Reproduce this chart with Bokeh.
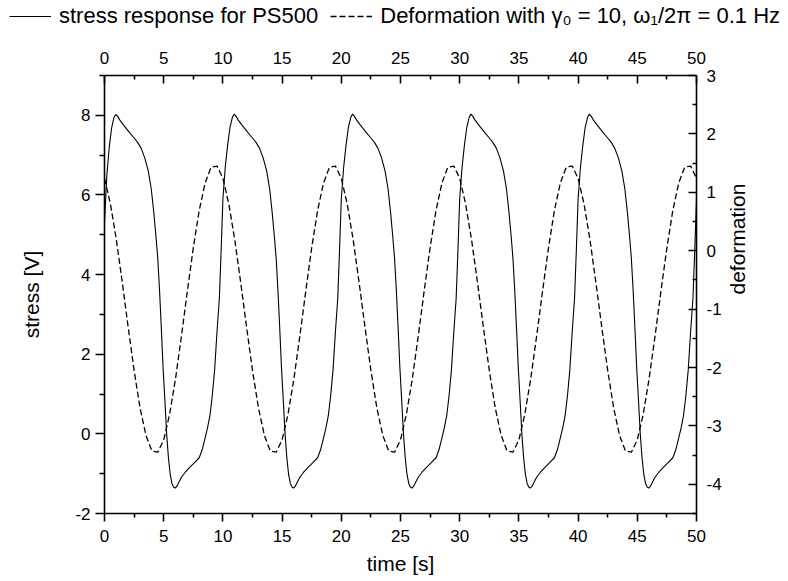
import math
from bokeh.plotting import figure
from bokeh.layouts import column
from bokeh.models import Range1d, LinearAxis, FixedTicker, Legend, LegendItem, PrintfTickFormatter
from bokeh.embed import file_html
from bokeh.resources import INLINE

# ---------------- data ----------------
stress_time = [
    0.0, 0.2, 0.4, 0.6, 0.8, 0.95, 1.1, 1.3, 1.6, 2.1, 2.5, 2.8, 3.1, 3.4, 3.7, 3.95, 4.15, 4.35, 4.5, 4.65, 4.8, 4.95, 5.1, 5.25, 5.4, 5.55, 5.7, 5.85, 5.97, 6.1, 6.3, 6.5, 6.8, 7.2, 7.6, 8.0, 8.25, 8.5, 8.7, 8.9, 9.1, 9.3, 9.5, 9.7, 9.85,
    10.0, 10.2, 10.4, 10.6, 10.8, 10.95, 11.1, 11.3, 11.6, 12.1, 12.5, 12.8, 13.1, 13.4, 13.7, 13.95, 14.15, 14.35, 14.5, 14.65, 14.8, 14.95, 15.1, 15.25, 15.4, 15.55, 15.7, 15.85, 15.97, 16.1, 16.3, 16.5, 16.8, 17.2, 17.6, 18.0, 18.25, 18.5, 18.7, 18.9, 19.1, 19.3, 19.5, 19.7, 19.85,
    20.0, 20.2, 20.4, 20.6, 20.8, 20.95, 21.1, 21.3, 21.6, 22.1, 22.5, 22.8, 23.1, 23.4, 23.7, 23.95, 24.15, 24.35, 24.5, 24.65, 24.8, 24.95, 25.1, 25.25, 25.4, 25.55, 25.7, 25.85, 25.97, 26.1, 26.3, 26.5, 26.8, 27.2, 27.6, 28.0, 28.25, 28.5, 28.7, 28.9, 29.1, 29.3, 29.5, 29.7, 29.85,
    30.0, 30.2, 30.4, 30.6, 30.8, 30.95, 31.1, 31.3, 31.6, 32.1, 32.5, 32.8, 33.1, 33.4, 33.7, 33.95, 34.15, 34.35, 34.5, 34.65, 34.8, 34.95, 35.1, 35.25, 35.4, 35.55, 35.7, 35.85, 35.97, 36.1, 36.3, 36.5, 36.8, 37.2, 37.6, 38.0, 38.25, 38.5, 38.7, 38.9, 39.1, 39.3, 39.5, 39.7, 39.85,
    40.0, 40.2, 40.4, 40.6, 40.8, 40.95, 41.1, 41.3, 41.6, 42.1, 42.5, 42.8, 43.1, 43.4, 43.7, 43.95, 44.15, 44.35, 44.5, 44.65, 44.8, 44.95, 45.1, 45.25, 45.4, 45.55, 45.7, 45.85, 45.97, 46.1, 46.3, 46.5, 46.8, 47.2, 47.6, 48.0, 48.25, 48.5, 48.7, 48.9, 49.1, 49.3, 49.5, 49.7, 49.85,
    50.0,
]
stress = [
    5.3, 6.5, 7.2, 7.68, 7.95, 8.02, 7.98, 7.88, 7.76, 7.57, 7.43, 7.32, 7.17, 6.93, 6.6, 6.15, 5.6, 4.95, 4.4, 3.6, 2.65, 1.65, 0.85, 0.0, -0.6, -1.02, -1.25, -1.34, -1.36, -1.32, -1.2, -1.09, -0.97, -0.84, -0.72, -0.6, -0.4, -0.1, 0.15, 0.45, 0.95, 1.6, 2.55, 3.4, 4.6,
    5.9, 6.7, 7.25, 7.7, 7.95, 8.03, 7.98, 7.88, 7.76, 7.57, 7.43, 7.32, 7.17, 6.93, 6.6, 6.15, 5.6, 4.95, 4.4, 3.6, 2.65, 1.65, 0.85, 0.0, -0.6, -1.02, -1.25, -1.34, -1.36, -1.32, -1.2, -1.09, -0.97, -0.84, -0.72, -0.6, -0.4, -0.1, 0.15, 0.45, 0.95, 1.6, 2.55, 3.4, 4.6,
    5.9, 6.7, 7.25, 7.7, 7.95, 8.03, 7.98, 7.88, 7.76, 7.57, 7.43, 7.32, 7.17, 6.93, 6.6, 6.15, 5.6, 4.95, 4.4, 3.6, 2.65, 1.65, 0.85, 0.0, -0.6, -1.02, -1.25, -1.34, -1.36, -1.32, -1.2, -1.09, -0.97, -0.84, -0.72, -0.6, -0.4, -0.1, 0.15, 0.45, 0.95, 1.6, 2.55, 3.4, 4.6,
    5.9, 6.7, 7.25, 7.7, 7.95, 8.03, 7.98, 7.88, 7.76, 7.57, 7.43, 7.32, 7.17, 6.93, 6.6, 6.15, 5.6, 4.95, 4.4, 3.6, 2.65, 1.65, 0.85, 0.0, -0.6, -1.02, -1.25, -1.34, -1.36, -1.32, -1.2, -1.09, -0.97, -0.84, -0.72, -0.6, -0.4, -0.1, 0.15, 0.45, 0.95, 1.6, 2.55, 3.4, 4.6,
    5.9, 6.7, 7.25, 7.7, 7.95, 8.03, 7.98, 7.88, 7.76, 7.57, 7.43, 7.32, 7.17, 6.93, 6.6, 6.15, 5.6, 4.95, 4.4, 3.6, 2.65, 1.65, 0.85, 0.0, -0.6, -1.02, -1.25, -1.34, -1.36, -1.32, -1.2, -1.09, -0.97, -0.84, -0.72, -0.6, -0.4, -0.1, 0.15, 0.45, 0.95, 1.6, 2.55, 3.4, 4.6,
    5.9,
]

deform_time = [
    0.0, 0.5, 1.0, 1.5, 2.0, 2.5, 3.0, 3.5, 4.0, 4.5, 5.0, 5.5, 6.0, 6.5, 7.0, 7.5, 8.0, 8.5, 9.0, 9.5,
    10.0, 10.5, 11.0, 11.5, 12.0, 12.5, 13.0, 13.5, 14.0, 14.5, 15.0, 15.5, 16.0, 16.5, 17.0, 17.5, 18.0, 18.5, 19.0, 19.5,
    20.0, 20.5, 21.0, 21.5, 22.0, 22.5, 23.0, 23.5, 24.0, 24.5, 25.0, 25.5, 26.0, 26.5, 27.0, 27.5, 28.0, 28.5, 29.0, 29.5,
    30.0, 30.5, 31.0, 31.5, 32.0, 32.5, 33.0, 33.5, 34.0, 34.5, 35.0, 35.5, 36.0, 36.5, 37.0, 37.5, 38.0, 38.5, 39.0, 39.5,
    40.0, 40.5, 41.0, 41.5, 42.0, 42.5, 43.0, 43.5, 44.0, 44.5, 45.0, 45.5, 46.0, 46.5, 47.0, 47.5, 48.0, 48.5, 49.0, 49.5,
    50.0,
]
deformation = [
    1.24, 0.80, 0.19, -0.54, -1.31, -2.05, -2.69, -3.16, -3.43, -3.45, -3.24, -2.80, -2.19, -1.46, -0.69, 0.05, 0.69, 1.16, 1.43, 1.45,
    1.24, 0.80, 0.19, -0.54, -1.31, -2.05, -2.69, -3.16, -3.43, -3.45, -3.24, -2.80, -2.19, -1.46, -0.69, 0.05, 0.69, 1.16, 1.43, 1.45,
    1.24, 0.80, 0.19, -0.54, -1.31, -2.05, -2.69, -3.16, -3.43, -3.45, -3.24, -2.80, -2.19, -1.46, -0.69, 0.05, 0.69, 1.16, 1.43, 1.45,
    1.24, 0.80, 0.19, -0.54, -1.31, -2.05, -2.69, -3.16, -3.43, -3.45, -3.24, -2.80, -2.19, -1.46, -0.69, 0.05, 0.69, 1.16, 1.43, 1.45,
    1.24, 0.80, 0.19, -0.54, -1.31, -2.05, -2.69, -3.16, -3.43, -3.45, -3.24, -2.80, -2.19, -1.46, -0.69, 0.05, 0.69, 1.16, 1.43, 1.45,
    1.24,
]

time_ticks = [0, 5, 10, 15, 20, 25, 30, 35, 40, 45, 50]
time_minor = [2.5, 7.5, 12.5, 17.5, 22.5, 27.5, 32.5, 37.5, 42.5, 47.5]
stress_ticks = [-2, 0, 2, 4, 6, 8]
stress_minor = [-1, 1, 3, 5, 7, 9]
deform_ticks = [-4, -3, -2, -1, 0, 1, 2, 3]
deform_minor = [-4.5, -3.5, -2.5, -1.5, -0.5, 0.5, 1.5, 2.5]

label_stress = "stress response for PS500"
label_deform = "Deformation with \u03b3\u2080 = 10, \u03c9\u2081/2\u03c0 = 0.1 Hz"

FONT = "Liberation Sans"
SOLID_W = 1.1
DASH_W = 1.3
DASH = "6 3"

# ---------------- main figure ----------------
p = figure(
    frame_width=592, frame_height=438,
    min_border_left=104, min_border_right=92, min_border_top=40, min_border_bottom=68,
    x_range=Range1d(0, 50), y_range=Range1d(-2, 9),
    output_backend="svg", toolbar_location=None,
    x_axis_label="time [s]", y_axis_label="stress [V]",
)
p.frame_align = False
p.extra_y_ranges = {"def": Range1d(-4.5, 3)}
p.xgrid.visible = False
p.ygrid.visible = False
p.outline_line_color = None
p.background_fill_color = "white"
p.border_fill_color = "white"

def style_axis(ax, tin, tout):
    ax.axis_line_color = "black"
    ax.axis_line_width = 1.6
    ax.major_tick_line_color = "black"
    ax.minor_tick_line_color = "black"
    ax.major_tick_line_width = 1.6
    ax.minor_tick_line_width = 1.6
    ax.major_tick_in = tin
    ax.major_tick_out = tout
    ax.minor_tick_in = int(round(tin * 0.55))
    ax.minor_tick_out = int(round(tout * 0.55))
    ax.major_label_text_font = FONT
    ax.major_label_text_font_size = "17px"
    ax.major_label_text_color = "black"
    ax.axis_label_text_font = FONT
    ax.axis_label_text_font_size = "21px"
    ax.axis_label_text_font_style = "normal"
    ax.axis_label_text_color = "black"

xb = p.xaxis[0]
xb.ticker = FixedTicker(ticks=time_ticks, minor_ticks=time_minor)
style_axis(xb, 0, 8)
xb.major_label_standoff = 8
xb.axis_label_standoff = 7

yl = p.yaxis[0]
yl.ticker = FixedTicker(ticks=stress_ticks, minor_ticks=stress_minor)
yl.formatter = PrintfTickFormatter(format="%d")
style_axis(yl, 0, 9)
yl.major_label_standoff = 5
yl.axis_label_standoff = 29

xt = LinearAxis(ticker=FixedTicker(ticks=time_ticks, minor_ticks=time_minor))
style_axis(xt, 8, 0)
xt.major_label_standoff = 12
p.add_layout(xt, "above")

yr = LinearAxis(y_range_name="def", axis_label="deformation",
                ticker=FixedTicker(ticks=deform_ticks, minor_ticks=deform_minor),
                formatter=PrintfTickFormatter(format="%d"))
style_axis(yr, 8, 0)
yr.major_label_standoff = 10
yr.axis_label_standoff = 13
yr.axis_label_orientation = math.pi / 2
p.add_layout(yr, "right")

r1 = p.line(stress_time, stress, line_color="black", line_width=SOLID_W)
r2 = p.line(deform_time, deformation, y_range_name="def", line_color="black",
            line_width=DASH_W, line_dash=DASH)

# ---------------- legend strip (above the chart) ----------------
# the strip's view range lies far away from the data, so its two lines only
# serve as legend samples and draw nothing themselves
lg = figure(width=788, height=35, x_range=Range1d(0, 1), y_range=Range1d(100, 101),
            x_axis_type=None, y_axis_type=None, min_border=0,
            output_backend="svg", toolbar_location=None)
lg.frame_align = False
lg.outline_line_color = None
lg.background_fill_color = "white"
lg.border_fill_color = "white"
lg.xgrid.visible = False
lg.ygrid.visible = False
lr1 = lg.line(stress_time, stress, line_color="black", line_width=SOLID_W)
lr2 = lg.line(deform_time, deformation, line_color="black", line_width=DASH_W, line_dash=DASH)

legend = Legend(
    items=[LegendItem(label=label_stress, renderers=[lr1]),
           LegendItem(label=label_deform, renderers=[lr2])],
    orientation="horizontal", location=(9, 6),
    glyph_width=42, glyph_height=20, label_standoff=8, spacing=12,
    padding=0, margin=0, border_line_alpha=0, background_fill_alpha=0,
    label_text_font=FONT, label_text_font_size="22px", label_text_color="black",
)
lg.add_layout(legend, "center")

layout = column(lg, p, spacing=0)
open("out.html", "w").write(file_html(layout, INLINE))
